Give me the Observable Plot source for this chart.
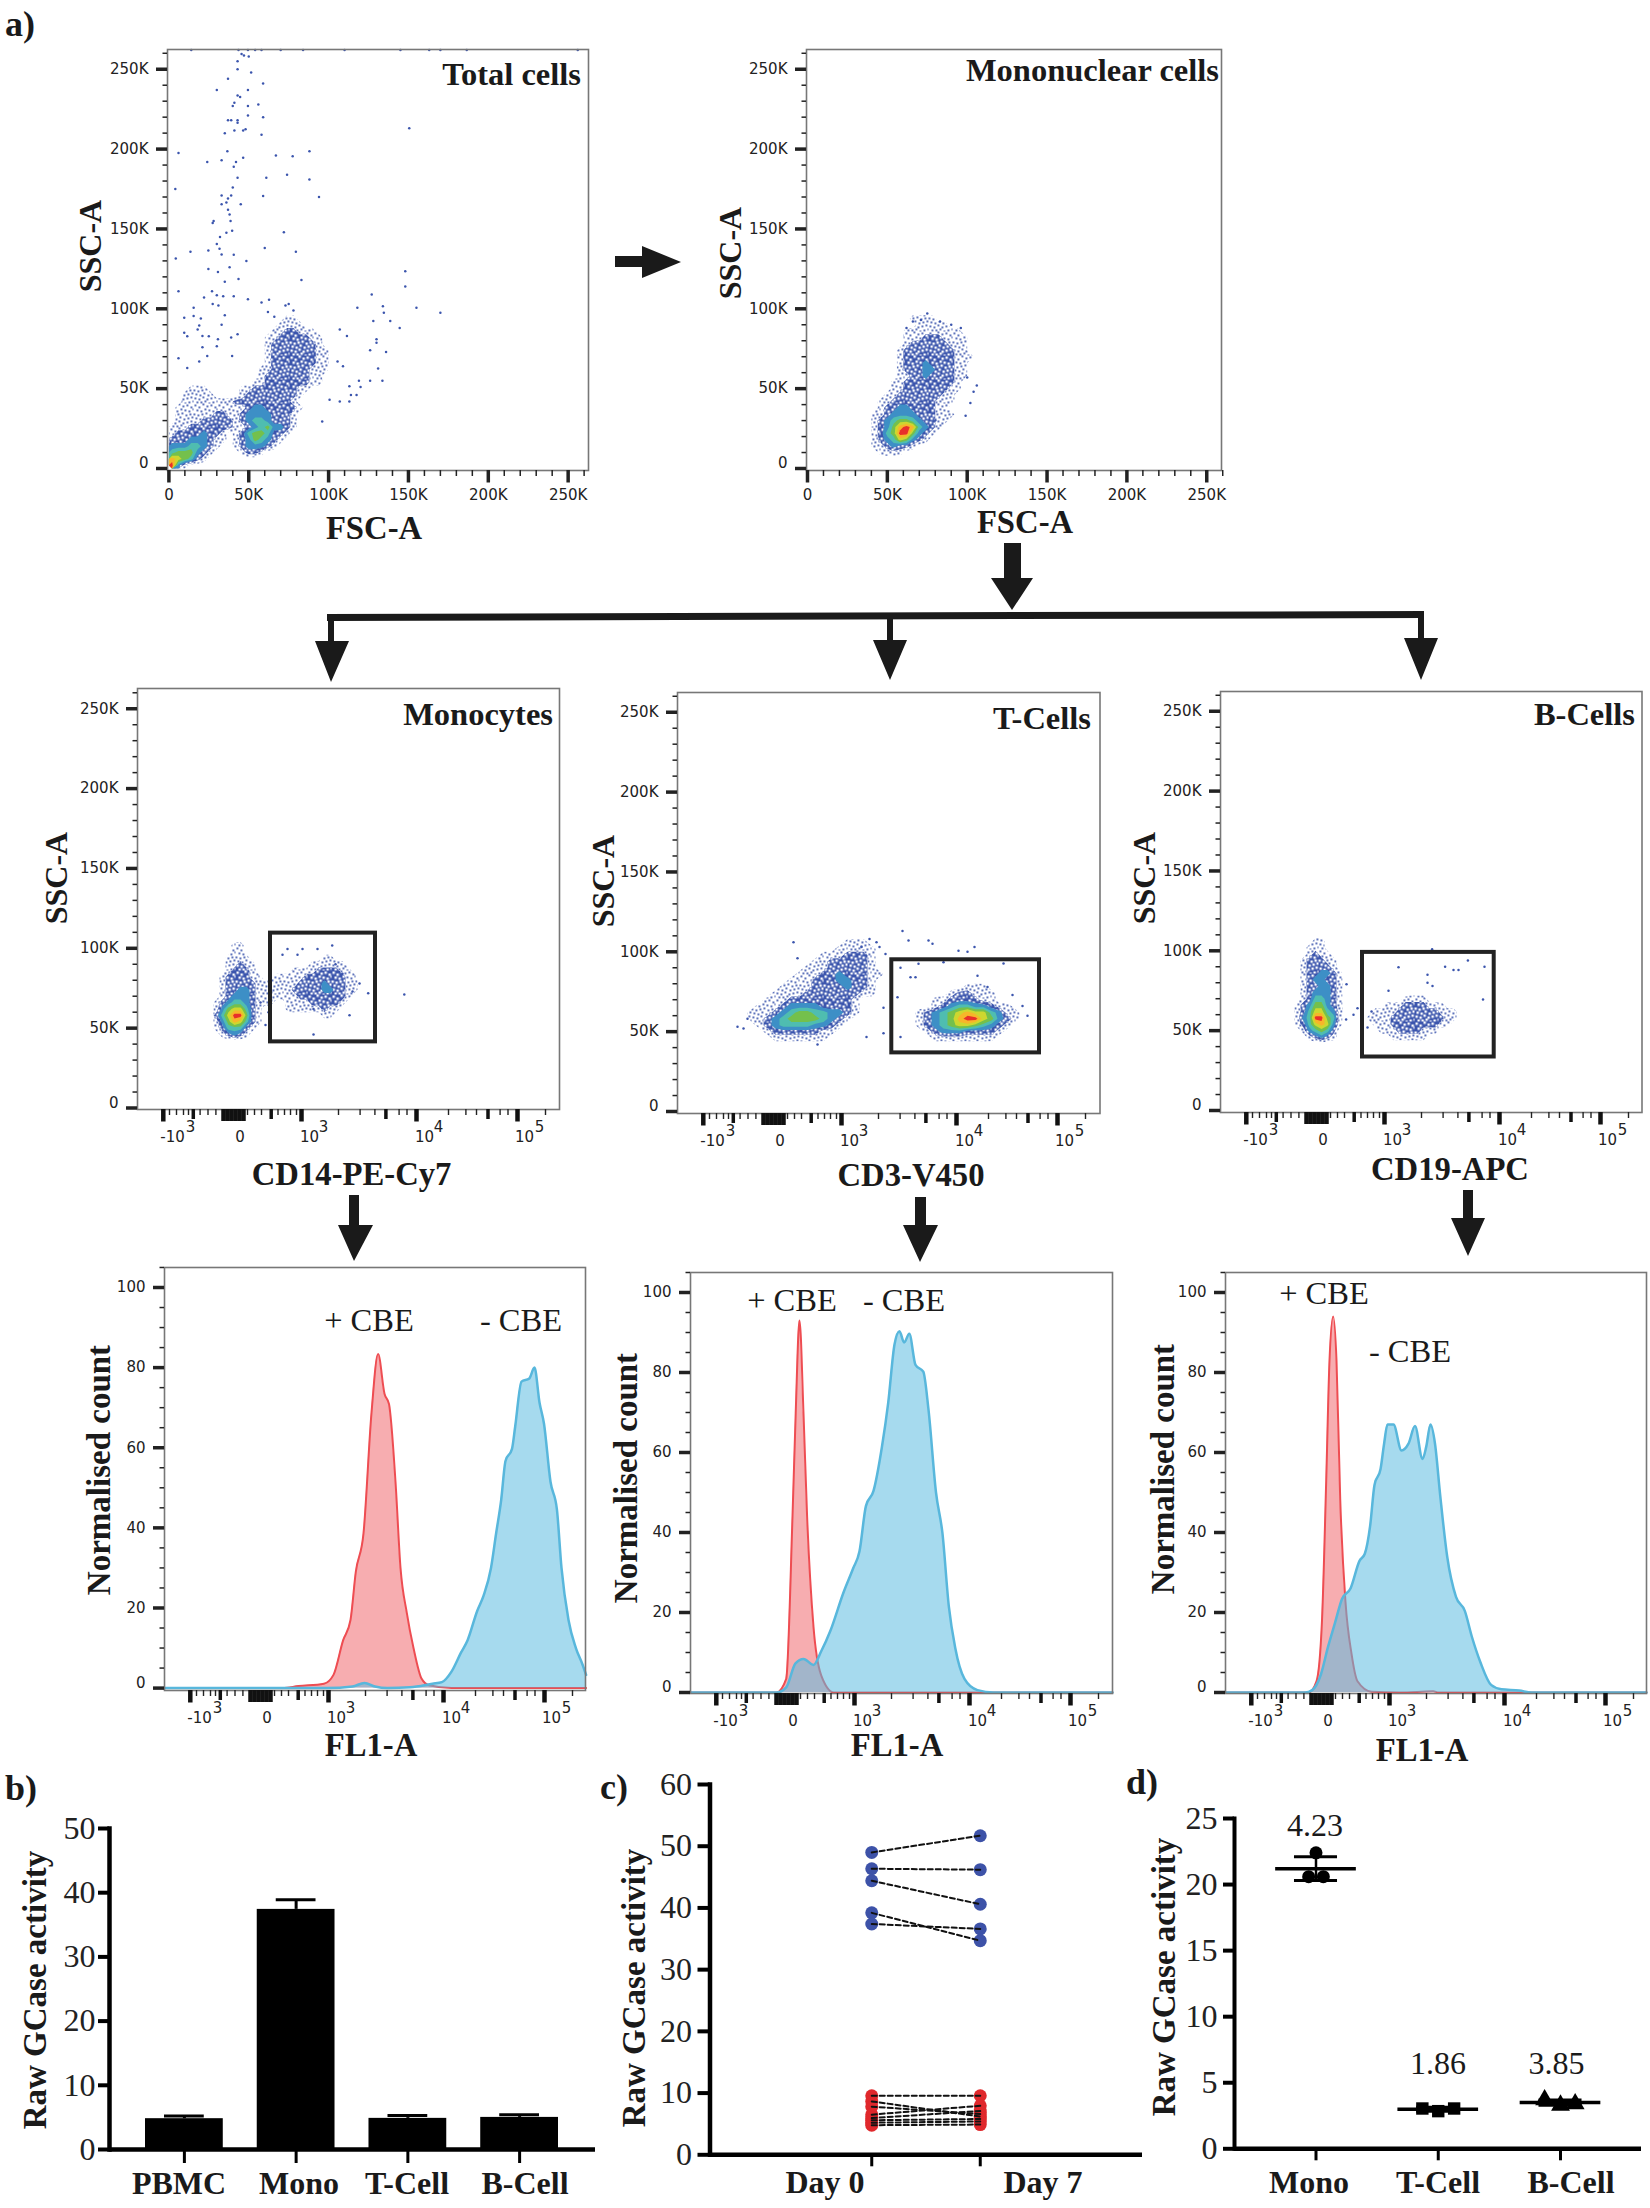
<!DOCTYPE html>
<html><head><meta charset="utf-8">
<script src="https://cdn.jsdelivr.net/npm/d3@7"></script>
<script src="https://cdn.jsdelivr.net/npm/@observablehq/plot@0.6"></script>
<style>
html,body{margin:0;background:#fff}
#page{position:relative;width:1650px;height:2208px;overflow:hidden;background:#fff;color:#111}
#page>svg{position:absolute;overflow:visible}
.t{position:absolute;white-space:nowrap;line-height:1;font-family:"Liberation Serif",serif;font-size:32px;color:#1a1a1a}
.b{font-weight:bold}
</style></head><body>
<div id="page">
<svg width="0" height="0" style="position:absolute"><defs>
<pattern id="spk1" width="24" height="24" patternUnits="userSpaceOnUse"></pattern>
<pattern id="spk2" width="24" height="24" patternUnits="userSpaceOnUse"><rect width="24" height="24" fill="#3b55ad"/></pattern>
</defs></svg>
<svg id="arrows" width="1650" height="2208" style="left:0;top:0"><g fill="#1a1a1a">
<polygon points="615,256 642,256 642,246 681,262 642,278 642,267 615,267"/>
<polygon points="1004,543 1021,543 1021,578 1033,578 1012,610 991,578 1004,578"/>
<polygon points="327,614 1424,611 1424,618 327,621"/>
<polygon points="328,617 334,617 334,641 349,641 331,682 315,641 328,641"/>
<polygon points="887,615 893,615 893,640 907,640 890,680 873,640 887,640"/>
<polygon points="1418,613 1424,613 1424,638 1438,638 1421,680 1404,638 1418,638"/>
<polygon points="349,1195 359,1195 359,1225 373,1225 354,1261 338,1225 349,1225"/>
<polygon points="915,1197 926,1197 926,1225 938,1225 920,1262 903,1225 915,1225"/>
<polygon points="1463,1190 1473,1190 1473,1218 1485,1218 1468,1256 1451,1218 1463,1218"/>
</g></svg>
</div>
<script>
// ---------- speckle texture standing in for the sparsest density levels ----------
const speckle=[[1,1],[5,3],[9,0],[13,2],[17,1],[21,3],[3,6],[7,7],[11,5],[15,6],[19,7],[23,5],[0,10],[4,11],[8,10],[12,9],[16,11],[20,10],[2,14],[6,15],[10,13],[14,15],[18,14],[22,13],[1,18],[5,19],[9,17],[13,19],[17,18],[21,17],[3,22],[7,22],[11,21],[15,23],[19,22],[23,21]];
d3.select("#spk1").selectAll("rect").data(speckle).join("rect").attr("x",d=>d[0]).attr("y",d=>d[1]).attr("width",1.8).attr("height",1.8).attr("fill","#3b55ad");
d3.select("#spk2").selectAll("rect.w").data(speckle).join("rect").attr("class","w").attr("x",d=>d[0]).attr("y",d=>d[1]).attr("width",2.4).attr("height",2.4).attr("fill","#fff");

// ---------- tick tables ----------
const sscMajor=[0,50,100,150,200,250];
const sscMinor=[10,20,30,40,60,70,80,90,110,120,130,140,160,170,180,190,210,220,230,240,260];
const countMajor=[0,20,40,60,80,100];
const countMinor=[5,10,15,25,30,35,45,50,55,65,70,75,85,90,95,105];
const biexMajor=[25.8,164,279,380];
const biexZero=[86,90,94,98,102,106];
const biexMedium=[55.8,133.7,248.4,350.5];
const biexMinor=[32,39,46,51,62.6,70.5,78.4,110,117,124,140.5,147,153,159,201,222.6,237.4,261.6,269.5,311,328.4,339,362.6,370.5,408];
const biexBase=[{c:35,t:"-10"},{c:102.6,t:"0"},{c:172,t:"10"},{c:287,t:"10"},{c:387,t:"10"}];
const biexExp=[{c:53,t:"3"},{c:186,t:"3"},{c:301,t:"4"},{c:402,t:"5"}];
const densityLevels=["url(#spk1)","url(#spk2)","#3d8fc6","#4fbdb0","#74c04c","#cdd72f","#f6b62a","#e8302a"];
const densityDomain=[1,2,3,4,5,6,7];

// ---------- density maps (level 0-8, top row first) ----------
const totalGrid=[
"0000000000000000000000000000",
"0000000000000000000000000000",
"0000000000000000000000000000",
"0000000000000000000000000000",
"0000000000000000001100000000",
"0000000000000000011110000000",
"0000000000000000112211100000",
"0000000000000001122222110000",
"0000000000000001222222210000",
"0000000000000001222222211000",
"0000000000000001222222211000",
"0000000000000001222222211000",
"0000000000000011222222111000",
"0000000000000012222222110000",
"0000000000000112222222110000",
"0001110000011222222211000000",
"0011111000012222222210000000",
"0011111111222222222100000000",
"0111111111112332222210000000",
"0111111221123333222100000000",
"0111122222123443222100000000",
"1112222222112345332100000000",
"1222232210124554221000000000",
"2223332110123543210000000000",
"3334432100123332100000000000",
"4555321000012210000000000000",
"7654210000000000000000000000",
"8310000000000000000000000000"];
const monoGrid=[
"0000001111000000",
"0000000111110000",
"0000011111111100",
"0000011122211110",
"0000012222221110",
"0000122222222110",
"0000122222222111",
"0000122232222110",
"0000122233222110",
"0000112232222110",
"0001122222222100",
"0001122222221100",
"0011222222211000",
"0112222222111000",
"0122332222110000",
"1123333222111000",
"1234554322110000",
"1235787432100000",
"1245885321000000",
"1234653210000000",
"1123221000000000",
"0111100000000000"];
const cd14Grid=[
"000110000000000000000000",
"000110000000000000000000",
"001111000000000000110000",
"001121100000000011111100",
"001222100000011112222110",
"012222110011111222222211",
"012222211111112222322211",
"012233211111122222332211",
"012333211111112222222210",
"123443211100111122222100",
"135664210000111111211000",
"246885210000000000110000",
"135764210000000000000000",
"124442100000000000000000",
"012321000000000000000000",
"000000000000000000000000"];
const cd3Grid=[
"0000000000000000000000000000000000",
"0000000000001110000000000000000000",
"0000000000011111000000000000000000",
"0000000001112221000000000000000000",
"0000000011222221000000000000000000",
"0000000111222221000000000000000000",
"0000001112232221100000000000000000",
"0000011122233221000000000000000000",
"0000111122223221000000000001110000",
"0001111222222211000000000122111000",
"0011122222222100000000011222211000",
"0111233332222100000000012344332110",
"1112345544332100000001234567664311",
"1123455554321000000001234578865321",
"0123444433210000000001234566543210",
"0012222221100000000000123332222100",
"0001111111000000000000011111111000",
"0000000000000000000000000000000000"];
const cd19Grid=[
"0001100000000000000000000000",
"0011100000000000000000000000",
"0012110000000000000000000000",
"0122211000000000000000000000",
"0122221000000000000000000000",
"0122332100000000000000000000",
"0123322100000000000000000000",
"0122332100000000000000000000",
"0123332100000000000000000000",
"0124432100000000001111000000",
"1235532100000001112222111000",
"1246643100000111122222221110",
"1348854100001111222222222110",
"1246763100000111222222221100",
"0134542000000011122221110000",
"0012321000000000111111000000",
"0000000000000000000000000000"];

// ---------- individually visible events ----------
const totalDotsX=[45.5,50,47,43,43,51.5,37,59,30,49.5,43,44.6,41,49.5,56,40,49.5,59,37,39,43,43,48,46.5,41,35,58,150.5,6,36.6,88,67,77.5,46.5,33,24,42,40.6,43,74,61,88,4,40,33,39,59,94,37,36,45,33,37,38,28,27.4,38.6,39.6,36,72,32,30,24.7,31.7,60,13.5,79.5,40.6,4.3,33,48.5,24.7,38,30.7,148,43.6,35,83,148,6,27,30,34,40.6,22,49.5,127,62.7,27.4,31,58,134,118,155,15.5,170,134.6,15.5,9.6,35,20,128,138.6,33,19,144.5,18,9.6,107,111.5,11.5,21,39,43,25,130,130,30.7,21,30,126,136,24,6,105.6,109,131,11.5,19,39.6,119,133.7,126,113,120,117.5,114,100.6,107,113,96,14,43.6,49.5,54,58,70,84,110,145,163,170,186.5,256,75,73,78,62,66];
const totalDotsY=[259.5,258,258.6,255,250,248,244,241,237,237,233.6,232.7,229,227,228,227,221,220,218,218,218,216.5,212.5,211.6,211.6,210,209,213,197.5,198.6,198.6,196,195.5,194.6,193,192,192,189,182,184,182,181,175,176,171,171,170.7,170,169,166.6,165.5,165.5,162,159,155,153.7,155,148.8,147.6,148,145,140.5,136.5,137.6,138,135.8,135.8,133.8,131.5,134,130,125,126,123,123.5,118.6,117,118,114,111,111,108.5,107.8,107.8,107,106,109,105.6,103,102,104,101.6,100.7,100.7,100.7,97.5,97.5,95.5,94.4,96,94,92.4,92.4,90,89.5,88,87,85,87,83,82.8,83,82,84,82.8,81,78.7,81,76,76.5,74,73,70.5,69,67,64,62.6,63,67,70.5,55,55,55,51.5,51,46,46,43,42,42,29.5,262,262,262,262,262,262,262,262,262,262,262,262,262,103,102,99,98,95];
const monoDotsX=[75,71,83,90,96,62,106,104,102,80,66,100,99];
const monoDotsY=[97,93,92,90,88,88,52,48,41,30,92,57,33];
const cd14DotsX=[266.8,230.7,176,150,165,180,194.7,160,215,123,128,131,176,198,205,222,212,145];
const cd14DotsY=[71,71.8,46,99.6,99.6,99.6,101.7,96,73,66,52,60,62,90,84,78,58,96];
const cd3DotsX=[184,225,231,251,255,297,290,281,266,326,60,116,208,223,189,206,206,220,233,238,223,241,192,199,202,70,66,120,140,335,345,350,300,310];
const cd3DotsY=[103,113,107,107,105,103,100,100.7,93.5,92.7,53,106,98.7,46.6,46.6,65,49,71.5,84,84,90,92.5,108,106,103,58,52,96,42,73,66,60,85,78];
const cd19DotsX=[211.6,247.4,264,224.6,233,238,262.5,178,207,126,137,125.6,141,133,207,212,168,151,147];
const cd19DotsY=[101,94,90,90,88,88,69.5,89.7,85,79,64,57,56,60,80,78,75,62,52];

// ---------- gates ----------
const cd14Gate=[{x1:133,x2:238,y1:41.4,y2:109.5}];
const cd3Gate=[{x1:214.3,x2:362,y1:36.7,y2:95}];
const cd19Gate=[{x1:142,x2:273.7,y1:33.5,y2:99}];

// ---------- histograms: channel position, normalised count ----------
const h1RedX=[0,118,134,159.4,169,178.6,186,191.3,199,207,213.6,220,224.5,231,236,242.3,249,257,264.7,287,421.6];
const h1RedY=[0,0,0.5,1.1,3.3,11.9,17,29,38.6,68.7,83.4,73.5,70.9,51.5,30,18.8,10,2.4,0.7,0,0];
const h1BlueX=[0,162.6,188,200,210.5,223,245.5,268,277.4,287,296.6,303,312.6,319,326.5,331.6,336.7,341,347.5,350.7,357,364.8,370,375,379.5,386,392.4,397,404,411.4,418,421.6];
const h1BlueY=[0,0,0.4,1.3,0.4,0,0.2,1.1,1.5,4.1,8.9,11.9,19.2,23,30,38.6,47,56.7,59.7,65.3,76.5,77.3,80,71.3,66,51.5,44.6,30,17,10,5.9,3.3];
const h2RedX=[0,86,95.7,102,105.2,109,113,116.6,123,130.7,143.5,422];
const h2RedY=[0,0,3.4,44,69.8,93,69.8,44,16.4,4.3,0,0];
const h2BlueX=[0,86,95.7,105,113,123,130.7,140,153,162.6,169,175.4,183,191.3,197.7,204,209,213.6,218.8,225,232.8,238,245.5,252,258.3,264.7,274,287,303,422];
const h2BlueY=[0,0,1.3,7.3,8.4,6.9,10.3,15.5,25,31,35.3,46.6,50.4,61.2,72.4,87,90.3,87.5,89.7,81.9,80.2,70.7,50,39.7,21.6,11.2,3.4,0.6,0,0];
const h3RedX=[0,83,91,96.5,100.7,104,107.7,111,114.7,120,126,132,146,175,207.7,213,421];
const h3RedY=[0,0,2.8,18,52.8,83,94,83,48.4,22.6,9.7,2.8,0.2,0,0.3,0,0];
const h3BlueX=[0,79.6,86.7,95.4,102.5,109.5,116.5,125,134,139.3,144.6,149,155,158.6,162,168,176,183,189.5,197,200.7,205,209.5,214.7,221.8,230.5,239.3,246.3,255,265.6,276,293.7,306,421];
const h3BlueY=[0,0,0.6,4.5,11.4,17.4,23.4,26,32.9,34.7,41.6,51.9,55.8,62.2,67,67,60.5,62.2,66.6,58.4,61.4,67,62.2,49.3,33.8,23.9,20.4,14,7.5,1.9,0.8,0.5,0,0];

// ---------- summary panels ----------
const barCats=["PBMC","Mono","T-Cell","B-Cell"];
const barMeans=[4.8,37.4,4.85,5.0];
const barTops=[5.2,38.9,5.3,5.4];
const dayCats=["Day 0","Day 7"];
const blueDay0=[49,46.35,44.4,39.2,37.4];
const blueDay7=[51.7,46.2,40.6,34.7,36.6];
const redDay0=[9.57,8.65,7.8,6.5,5.95,5.6,5.2,4.8];
const redDay7=[9.57,6.2,6.6,7.95,7.1,5.8,5.4,4.9];
const dCats=["Mono","T-Cell","B-Cell"];
const dMeans=[21.2,3.0,3.5];
const dLow=[20.3,2.85,3.3];
const dHigh=[22.1,3.15,3.7];
const monoPtsX=[1,0.94,1.06];
const monoPts=[22.4,20.6,20.6];
const tPtsX=[1.87,2,2.13];
const tPts=[3.05,2.85,3.05];
const bPtsX=[2.87,3,3.12];
const bPts=[3.7,3.3,3.4];
const dCvLabels=["4.23","1.86","3.85"];

// ---------- helpers ----------
const page=document.getElementById("page");
const zip=(xs,ys)=>xs.map((x,i)=>({x,y:ys[i]}));
const blank=()=>"";
function put(node,left,top){node.style.left=left+"px";node.style.top=top+"px";page.append(node);}
function label(text,x,y,opt={}){
  const d=document.createElement("div");
  d.className="t"+(opt.bold?" b":"");
  d.textContent=text;
  d.style.left=x+"px";d.style.top=y+"px";
  if(opt.size)d.style.fontSize=opt.size+"px";
  const ax=opt.right?"-100%":opt.left?"0":"-50%";
  d.style.transform=`translate(${ax},-50%)`+(opt.rot?" rotate(-90deg)":"");
  page.append(d);
}
function yAxes(major,minor,fmt){
  const nz=major.filter(d=>d!==0);
  return [
    Plot.axisY(major,{tickSize:11,strokeWidth:3.5,tickFormat:blank,label:null,stroke:"#222"}),
    Plot.axisY(minor,{tickSize:4.5,strokeWidth:1.5,tickFormat:blank,label:null,stroke:"#222"}),
    Plot.axisY(nz,{tickSize:0,tickPadding:19,tickFormat:fmt,label:null,fill:"#222"}),
    Plot.axisY([0],{tickSize:0,tickPadding:19,dy:-5,tickFormat:fmt,label:null,fill:"#222"})
  ];
}
function biexAxes(){
  return [
    Plot.axisX(biexMajor,{tickSize:12.5,strokeWidth:4.5,tickFormat:blank,label:null,stroke:"#111"}),
    Plot.axisX(biexZero,{tickSize:12,strokeWidth:4.5,tickFormat:blank,label:null,stroke:"#111"}),
    Plot.axisX(biexMedium,{tickSize:10,strokeWidth:3.5,tickFormat:blank,label:null,stroke:"#111"}),
    Plot.axisX(biexMinor,{tickSize:6,strokeWidth:1.4,tickFormat:blank,label:null,stroke:"#222"}),
    Plot.text(biexBase,{x:"c",text:"t",frameAnchor:"bottom",dy:32,fill:"#222"}),
    Plot.text(biexExp,{x:"c",text:"t",frameAnchor:"bottom",dy:22,fill:"#222"})
  ];
}
const flowStyle={fontFamily:"DejaVu Sans",fontSize:"15px",background:"transparent",overflow:"visible"};
const mL=70,mR=6,mT=6,mB=52;
const KPX=1.597;
function flowPlot(o){
  const W=o.r-o.l,H=o.b-o.t;
  const g=o.grid,rows=g.length,cols=g[0].length;
  const vals=g.flatMap(r=>Array.from(r.padEnd(cols,"0"),Number));
  const xDomain=o.linear?[(o.l-o.xZero)/KPX,(o.r-o.xZero)/KPX]:[0,W];
  const marks=[
    Plot.contour(vals,{width:cols,height:rows,x1:o.gx[0],x2:o.gx[1],y1:o.gy[0],y2:o.gy[1],
      thresholds:[0.5,1.5,2.5,3.5,4.5,5.5,6.5,7.5],fill:Plot.identity,stroke:"none",clip:true}),
    Plot.dot(zip(o.dotsX,o.dotsY),{x:"x",y:"y",r:1.25,fill:"#3b55ad",stroke:"none"})
  ];
  if(o.gate)marks.push(Plot.rect(o.gate,{x1:"x1",x2:"x2",y1:"y1",y2:"y2",fill:"none",stroke:"#222",strokeWidth:4}));
  marks.push(Plot.frame({stroke:"#777",strokeWidth:1.6}));
  marks.push(...yAxes(sscMajor,sscMinor,d=>d===0?"0":d+"K"));
  if(o.linear){
    marks.push(
      Plot.axisX(sscMajor,{tickSize:12.5,strokeWidth:3.5,tickFormat:d=>d===0?"0":d+"K",tickPadding:6,label:null,stroke:"#222",fill:"#222"}),
      Plot.axisX(sscMinor,{tickSize:6,strokeWidth:1.5,tickFormat:blank,label:null,stroke:"#222"}));
  } else marks.push(...biexAxes());
  const svg=Plot.plot({width:W+mL+mR,height:H+mT+mB,marginLeft:mL,marginRight:mR,marginTop:mT,marginBottom:mB,
    style:flowStyle,
    x:{domain:xDomain},y:{domain:[(o.zero-o.b)/KPX,(o.zero-o.t)/KPX]},
    color:{type:"threshold",domain:densityDomain,range:densityLevels},marks});
  put(svg,o.l-mL,o.t-mT);
}
function histPlot(o){
  const W=o.r-o.l,H=o.b-o.t,k=(o.zero-o.hundred)/100;
  const c="monotone-x";
  const marks=[
    Plot.areaY(zip(o.redX,o.redY),{x:"x",y:"y",fill:"#ef5b61",fillOpacity:0.5,curve:c}),
    Plot.lineY(zip(o.redX,o.redY),{x:"x",y:"y",stroke:"#ee4d52",strokeWidth:2,curve:c}),
    Plot.areaY(zip(o.blueX,o.blueY),{x:"x",y:"y",fill:"#5dbbe0",fillOpacity:0.55,curve:c}),
    Plot.lineY(zip(o.blueX,o.blueY),{x:"x",y:"y",stroke:"#58b7dc",strokeWidth:2.5,curve:c}),
    Plot.frame({stroke:"#777",strokeWidth:1.6}),
    ...yAxes(countMajor,countMinor,d=>d),
    ...biexAxes()
  ];
  const svg=Plot.plot({width:W+mL+mR,height:H+mT+mB,marginLeft:mL,marginRight:mR,marginTop:mT,marginBottom:mB,
    style:flowStyle,x:{domain:[0,W]},y:{domain:[(o.zero-o.b)/k,(o.zero-o.t)/k]},marks});
  put(svg,o.l-mL,o.t-mT);
}

// ---------- flow scatter panels ----------
flowPlot({l:167,r:588,t:49,b:470,zero:468,xZero:168.4,linear:true,grid:totalGrid,gx:[0,112],gy:[112,0],dotsX:totalDotsX,dotsY:totalDotsY});
flowPlot({l:806,r:1221,t:49,b:470,zero:468,xZero:807,linear:true,grid:monoGrid,gx:[40,104],gy:[96,8],dotsX:monoDotsX,dotsY:monoDotsY});
flowPlot({l:137,r:559,t:688,b:1109,zero:1107.5,grid:cd14Grid,gx:[76,220],gy:[104,40],dotsX:cd14DotsX,dotsY:cd14DotsY,gate:cd14Gate});
flowPlot({l:677,r:1099.5,t:692,b:1113,zero:1111,grid:cd3Grid,gx:[70,342],gy:[112,40],dotsX:cd3DotsX,dotsY:cd3DotsY,gate:cd3Gate});
flowPlot({l:1219.5,r:1641,t:691,b:1112,zero:1110,grid:cd19Grid,gx:[74,242],gy:[108,40],dotsX:cd19DotsX,dotsY:cd19DotsY,gate:cd19Gate});

// ---------- histogram panels ----------
histPlot({l:164,r:585,t:1267,b:1690,zero:1687.6,hundred:1287,redX:h1RedX,redY:h1RedY,blueX:h1BlueX,blueY:h1BlueY});
histPlot({l:690,r:1112,t:1272,b:1693,zero:1692,hundred:1292,redX:h2RedX,redY:h2RedY,blueX:h2BlueX,blueY:h2BlueY});
histPlot({l:1224.5,r:1645.5,t:1272,b:1693,zero:1692,hundred:1292,redX:h3RedX,redY:h3RedY,blueX:h3BlueX,blueY:h3BlueY});

// ---------- text of panel a ----------
const sum=[["a)",5,24],["b)",5,1788],["c)",600,1787],["d)",1126,1782]];
for(const [t,x,y] of sum)label(t,x,y,{bold:true,left:true,size:36});
for(const [t,x,y] of [["Total cells",581,74],["Mononuclear cells",1219,70],["Monocytes",553,714],["T-Cells",1091,718],["B-Cells",1635,714]])label(t,x,y,{bold:true,right:true,size:32.5});
for(const [x,y] of [[89.5,246],[730,253],[56,878],[603,881],[1144,878]])label("SSC-A",x,y,{bold:true,rot:true,size:32});
for(const [t,x,y] of [["FSC-A",374,528],["FSC-A",1025,522],["CD14-PE-Cy7",351.6,1174],["CD3-V450",911,1175],["CD19-APC",1450,1169],["FL1-A",371,1745],["FL1-A",897,1745],["FL1-A",1422,1750]])label(t,x,y,{bold:true,size:32.7});
for(const [x,y] of [[99,1470],[626,1478],[1163,1469]])label("Normalised count",x,y,{bold:true,rot:true,size:33});
for(const [t,x,y] of [["+ CBE",369,1320],["- CBE",521,1320],["+ CBE",792,1300],["- CBE",904,1300],["+ CBE",1324,1293],["- CBE",1410,1351]])label(t,x,y,{size:32.5});
for(const [x,y] of [[35,1990],[634,1988],[1164,1977]])label("Raw GCase activity",x,y,{bold:true,rot:true,size:33});

// ---------- panel b ----------
const serifStyle={fontFamily:"Liberation Serif",fontSize:"32px",background:"transparent",overflow:"visible"};
const barData=barCats.map((c,i)=>({c,v:barMeans[i],top:barTops[i]}));
put(Plot.plot({width:600,height:408,marginLeft:109,marginRight:5,marginTop:28,marginBottom:59,style:serifStyle,
  x:{type:"band",domain:barCats,range:[145,558],paddingInner:0.304,paddingOuter:0,round:false},y:{domain:[0,50]},
  marks:[
    Plot.barY(barData,{x:"c",y:"v",fill:"#000"}),
    Plot.ruleX(barData,{x:"c",y1:"v",y2:"top",stroke:"#000",strokeWidth:3}),
    Plot.tickY(barData,{x:"c",y:"top",stroke:"#000",strokeWidth:3,insetLeft:19,insetRight:19}),
    Plot.ruleY([0],{stroke:"#000",strokeWidth:4.5}),
    Plot.frame({anchor:"left",stroke:"#000",strokeWidth:4.5}),
    Plot.axisY([0,10,20,30,40,50],{tickSize:11,tickPadding:3,strokeWidth:4,label:null,stroke:"#000",fill:"#222"}),
    Plot.axisX(barCats,{tickSize:14,strokeWidth:3,tickFormat:blank,label:null,stroke:"#000"})
  ]}),0,1800);
for(const [t,x] of [["PBMC",179],["Mono",299],["T-Cell",407],["B-Cell",525]])label(t,x,2183,{bold:true});

// ---------- panel c ----------
const pairRows=(a,b,tag)=>a.flatMap((v,i)=>[{day:dayCats[0],v,id:tag+i},{day:dayCats[1],v:b[i],id:tag+i}]);
const blueRows=pairRows(blueDay0,blueDay7,"b"),redRows=pairRows(redDay0,redDay7,"r");
const lineOpt={x:"day",y:"v",z:"id",stroke:"#111",strokeWidth:2,strokeDasharray:"5,3"};
put(Plot.plot({width:545,height:430,marginLeft:109.5,marginRight:3,marginTop:24,marginBottom:35.7,style:serifStyle,
  x:{type:"point",domain:dayCats,range:[217,434],round:false},y:{domain:[0,60]},
  marks:[
    Plot.dot(blueRows,{x:"day",y:"v",r:6.5,fill:"#3d52a8",stroke:"none"}),
    Plot.dot(redRows,{x:"day",y:"v",r:6.5,fill:"#e0282c",stroke:"none"}),
    Plot.line(blueRows,lineOpt),Plot.line(redRows,lineOpt),
    Plot.ruleY([0],{stroke:"#000",strokeWidth:4.5}),
    Plot.frame({anchor:"left",stroke:"#000",strokeWidth:4.5}),
    Plot.axisY([0,10,20,30,40,50,60],{tickSize:12,tickPadding:6,strokeWidth:4,label:null,stroke:"#000",fill:"#222"}),
    Plot.axisX(dayCats,{tickSize:12,strokeWidth:3,tickFormat:blank,label:null,stroke:"#000"})
  ]}),600,1760);
for(const [t,x] of [["Day 0",825],["Day 7",1043]])label(t,x,2182,{bold:true});

// ---------- panel d ----------
const dPos=[1,2,3];
const dRows=dPos.map((p,i)=>({p,m:dMeans[i],lo:dLow[i],hi:dHigh[i]}));
put(Plot.plot({width:530,height:418,marginLeft:114,marginRight:9,marginTop:28,marginBottom:59.7,style:serifStyle,
  x:{domain:[1,3],range:[195.5,440]},y:{domain:[0,25]},
  marks:[
    Plot.dot(zip(monoPtsX,monoPts),{x:"x",y:"y",r:6.5,fill:"#000",symbol:"circle"}),
    Plot.dot(zip(tPtsX,tPts),{x:"x",y:"y",r:7,fill:"#000",symbol:"square"}),
    Plot.dot(zip(bPtsX,bPts),{x:"x",y:"y",r:7,fill:"#000",symbol:"triangle"}),
    Plot.ruleX(dRows,{x:"p",y1:"lo",y2:"hi",stroke:"#000",strokeWidth:2.5}),
    Plot.ruleY(dRows,{y:"lo",x1:d=>d.p-0.176,x2:d=>d.p+0.176,stroke:"#000",strokeWidth:3}),
    Plot.ruleY(dRows,{y:"hi",x1:d=>d.p-0.176,x2:d=>d.p+0.176,stroke:"#000",strokeWidth:3}),
    Plot.ruleY(dRows,{y:"m",x1:d=>d.p-0.33,x2:d=>d.p+0.33,stroke:"#000",strokeWidth:3.5}),
    Plot.ruleY([0],{stroke:"#000",strokeWidth:4.5}),
    Plot.frame({anchor:"left",stroke:"#000",strokeWidth:4}),
    Plot.axisY([0,5,10,15,20,25],{tickSize:11,tickPadding:6,strokeWidth:4,label:null,stroke:"#000",fill:"#222"}),
    Plot.axisX(dPos,{tickSize:12,strokeWidth:3,tickFormat:blank,label:null,stroke:"#000"})
  ]}),1120,1790);
for(const [t,x] of [[dCats[0],1309],[dCats[1],1438],[dCats[2],1571]])label(t,x,2182,{bold:true});
for(const [t,x,y] of [[dCvLabels[0],1315,1825],[dCvLabels[1],1438,2063],[dCvLabels[2],1556.5,2063]])label(t,x,y);
</script>
</body></html>
